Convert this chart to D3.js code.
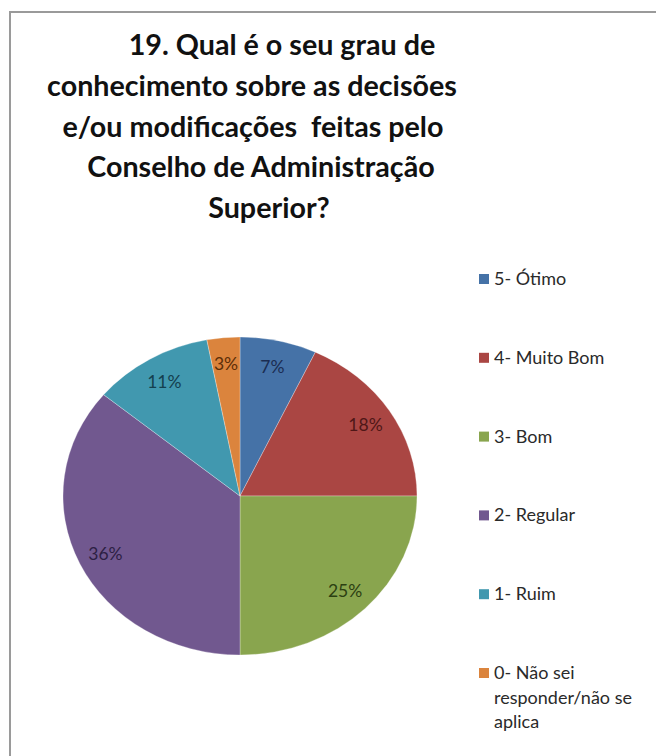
<!DOCTYPE html>
<html>
<head>
<meta charset="utf-8">
<script src="https://cdn.jsdelivr.net/npm/d3@7"></script>
<style>
  body { margin: 0; background: #fff; }
  svg { display: block; }
</style>
</head>
<body>
<svg id="chart" width="656" height="756"></svg>
<script>
const categories = ["5- Ótimo", "4- Muito Bom", "3- Bom", "2- Regular", "1- Ruim", "0- Não sei responder/não se aplica"];
const values = [7, 18, 25, 36, 11, 3];
const colors = ["#4572A7", "#AA4643", "#89A54E", "#71588F", "#4198AF", "#DB843D"];
const labelColors = ["#1b2d52", "#4f1717", "#2c3f12", "#2d1f44", "#143f4e", "#5c2e08"];
const titleLines = ["19. Qual é o seu grau de", "conhecimento sobre as decisões", "e/ou modificações  feitas pelo", "Conselho de Administração", "Superior?"];
const legendLines = [["5- Ótimo"], ["4- Muito Bom"], ["3- Bom"], ["2- Regular"], ["1- Ruim"], ["0- Não sei", "responder/não se", "aplica"]];

const svg = d3.select("#chart");
const font = "Lato, Carlito, Calibri, sans-serif";

// moldura (só topo e esquerda aparecem no recorte)
svg.append("path")
    .attr("d", "M10,756 V12 H656")
    .attr("fill", "none")
    .attr("stroke", "#9a9a9a")
    .attr("stroke-width", 2);

// título
const titleCenters = [282, 252, 253, 261, 269];
const title = svg.append("g").attr("font-family", font).attr("font-weight", "bold").attr("fill", "#111");
const tl = title.selectAll("text")
    .data(titleLines)
    .enter()
    .append("text")
    .attr("x", (d, i) => titleCenters[i])
    .attr("y", (d, i) => 55 + i * 40.8)
    .attr("text-anchor", "middle")
    .style("white-space", "pre")
    .attr("font-size", 30)
    .text(d => d);
// ajusta o tamanho para a largura da 2a linha (~410px)
const w2 = tl.nodes()[1].getComputedTextLength();
tl.attr("font-size", 30 * 410 / w2);

// pizza (elipse)
const cx = 240, cy = 496, rx = 177, ry = 159;
const pie = d3.pie().sort(null).value(d => d)(values);
const arc = d3.arc().innerRadius(0).outerRadius(rx);
const labelArc = d3.arc().innerRadius(rx * 0.84).outerRadius(rx * 0.84);

const pieG = svg.append("g").attr("transform", `translate(${cx},${cy}) scale(1,${ry / rx})`);
pieG.selectAll("path")
    .data(pie)
    .enter()
    .append("path")
    .attr("d", arc)
    .attr("fill", (d, i) => colors[i])
    .attr("stroke", "#ffffff")
    .attr("stroke-opacity", 0.5)
    .attr("stroke-width", 0.6);

svg.append("g")
    .selectAll("text")
    .data(pie)
    .enter()
    .append("text")
    .attr("x", d => cx + labelArc.centroid(d)[0])
    .attr("y", d => cy + labelArc.centroid(d)[1] * ry / rx)
    .attr("dy", "0.4em")
    .attr("text-anchor", "middle")
    .attr("font-family", font)
    .attr("font-size", 17.5)
    .attr("fill", (d, i) => labelColors[i])
    .text(d => d.value + "%");

// legenda
const legend = svg.append("g").attr("font-family", font).attr("fill", "#2a2a2a");
const items = legend.selectAll("g")
    .data(legendLines)
    .enter()
    .append("g")
    .attr("transform", (d, i) => `translate(479,${285 + i * 78.8})`);
items.append("rect")
    .attr("x", 0).attr("y", -11)
    .attr("width", 10).attr("height", 10)
    .attr("fill", (d, i) => colors[i]);
const lt = items.selectAll("text")
    .data(d => d)
    .enter()
    .append("text")
    .attr("x", 15)
    .attr("y", (d, j) => j * 24.5)
    .attr("font-size", 18)
    .text(d => d);
</script>
</body>
</html>
